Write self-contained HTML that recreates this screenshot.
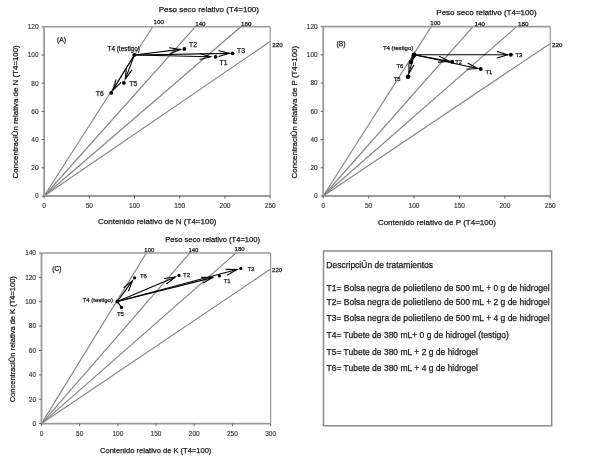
<!DOCTYPE html>
<html><head><meta charset="utf-8"><style>
html,body{margin:0;padding:0;background:#fff;width:589px;height:464px;overflow:hidden}
#w{will-change:transform;width:589px;height:464px}
svg{display:block;font-family:"Liberation Sans",sans-serif}
text{stroke:#1a1a1a;stroke-width:0.25px}
text.tk{stroke:#333;stroke-width:0.15px}
</style></head><body>
<div id="w"><svg width="589" height="464" viewBox="0 0 589 464">
<rect width="589" height="464" fill="#fff"/>
<line x1="44.10" y1="196.00" x2="152.70" y2="26.80" stroke="#858585" stroke-width="1.15"/>
<line x1="44.10" y1="196.00" x2="195.20" y2="26.80" stroke="#858585" stroke-width="1.15"/>
<line x1="44.10" y1="196.00" x2="240.90" y2="26.80" stroke="#858585" stroke-width="1.15"/>
<line x1="44.10" y1="196.00" x2="270.20" y2="41.40" stroke="#858585" stroke-width="1.15"/>
<line x1="44.10" y1="26.80" x2="270.20" y2="26.80" stroke="#9a9a9a" stroke-width="1.6"/>
<line x1="270.20" y1="26.80" x2="270.20" y2="196.00" stroke="#9a9a9a" stroke-width="1.2"/>
<line x1="44.10" y1="26.80" x2="44.10" y2="196.80" stroke="#9a9a9a" stroke-width="1.8"/>
<line x1="44.10" y1="196.00" x2="270.20" y2="196.00" stroke="#9a9a9a" stroke-width="1.8"/>
<line x1="41.60" y1="196.00" x2="44.10" y2="196.00" stroke="#555" stroke-width="0.9"/>
<text x="38.60" y="198.35" font-size="6.5" text-anchor="end" fill="#333" class="tk">0</text>
<line x1="41.60" y1="167.80" x2="44.10" y2="167.80" stroke="#555" stroke-width="0.9"/>
<text x="38.60" y="170.15" font-size="6.5" text-anchor="end" fill="#333" class="tk">20</text>
<line x1="41.60" y1="139.60" x2="44.10" y2="139.60" stroke="#555" stroke-width="0.9"/>
<text x="38.60" y="141.95" font-size="6.5" text-anchor="end" fill="#333" class="tk">40</text>
<line x1="41.60" y1="111.40" x2="44.10" y2="111.40" stroke="#555" stroke-width="0.9"/>
<text x="38.60" y="113.75" font-size="6.5" text-anchor="end" fill="#333" class="tk">60</text>
<line x1="41.60" y1="83.20" x2="44.10" y2="83.20" stroke="#555" stroke-width="0.9"/>
<text x="38.60" y="85.55" font-size="6.5" text-anchor="end" fill="#333" class="tk">80</text>
<line x1="41.60" y1="55.00" x2="44.10" y2="55.00" stroke="#555" stroke-width="0.9"/>
<text x="38.60" y="57.35" font-size="6.5" text-anchor="end" fill="#333" class="tk">100</text>
<line x1="41.60" y1="26.80" x2="44.10" y2="26.80" stroke="#555" stroke-width="0.9"/>
<text x="38.60" y="29.15" font-size="6.5" text-anchor="end" fill="#333" class="tk">120</text>
<line x1="44.10" y1="196.00" x2="44.10" y2="198.50" stroke="#555" stroke-width="0.9"/>
<text x="44.10" y="208.00" font-size="6.5" text-anchor="middle" fill="#333" class="tk">0</text>
<line x1="89.32" y1="196.00" x2="89.32" y2="198.50" stroke="#555" stroke-width="0.9"/>
<text x="89.32" y="208.00" font-size="6.5" text-anchor="middle" fill="#333" class="tk">50</text>
<line x1="134.54" y1="196.00" x2="134.54" y2="198.50" stroke="#555" stroke-width="0.9"/>
<text x="134.54" y="208.00" font-size="6.5" text-anchor="middle" fill="#333" class="tk">100</text>
<line x1="179.76" y1="196.00" x2="179.76" y2="198.50" stroke="#555" stroke-width="0.9"/>
<text x="179.76" y="208.00" font-size="6.5" text-anchor="middle" fill="#333" class="tk">150</text>
<line x1="224.98" y1="196.00" x2="224.98" y2="198.50" stroke="#555" stroke-width="0.9"/>
<text x="224.98" y="208.00" font-size="6.5" text-anchor="middle" fill="#333" class="tk">200</text>
<line x1="270.20" y1="196.00" x2="270.20" y2="198.50" stroke="#555" stroke-width="0.9"/>
<text x="270.20" y="208.00" font-size="6.5" text-anchor="middle" fill="#333" class="tk">250</text>
<text x="158.70" y="12.30" font-size="8" text-anchor="start" fill="#1a1a1a" >Peso seco relativo (T4=100)</text>
<text x="153.50" y="24.30" font-size="6.2" text-anchor="start" fill="#1a1a1a" >100</text>
<text x="195.20" y="26.00" font-size="6.2" text-anchor="start" fill="#1a1a1a" >140</text>
<text x="241.00" y="26.00" font-size="6.2" text-anchor="start" fill="#1a1a1a" >180</text>
<text x="272.30" y="46.80" font-size="6.2" text-anchor="start" fill="#1a1a1a" >220</text>
<text x="98.00" y="224.30" font-size="8" text-anchor="start" fill="#1a1a1a" >Contenido relativo de N (T4=100)</text>
<text transform="translate(17.8,178.4) rotate(-90)" font-size="7.9" fill="#222">Concentraci&#219;n relativa de N (T4=100)</text>
<text x="57.00" y="41.90" font-size="6.8" text-anchor="start" fill="#1a1a1a" >(A)</text>
<line x1="134.30" y1="55.00" x2="210.60" y2="56.69" stroke="#000" stroke-width="1.1"/>
<polyline points="199.54,59.45 210.60,56.69 199.67,53.45" fill="none" stroke="#000" stroke-width="1.1"/>
<line x1="134.30" y1="55.00" x2="180.43" y2="49.38" stroke="#000" stroke-width="1.1"/>
<polyline points="169.87,53.69 180.43,49.38 169.15,47.73" fill="none" stroke="#000" stroke-width="1.1"/>
<line x1="134.30" y1="55.00" x2="229.50" y2="53.35" stroke="#000" stroke-width="1.1"/>
<polyline points="218.55,56.54 229.50,53.35 218.45,50.54" fill="none" stroke="#000" stroke-width="1.1"/>
<line x1="134.30" y1="55.00" x2="125.30" y2="79.15" stroke="#000" stroke-width="1.1"/>
<polyline points="126.33,67.80 125.30,79.15 131.95,69.89" fill="none" stroke="#000" stroke-width="1.1"/>
<line x1="134.30" y1="55.00" x2="112.86" y2="90.24" stroke="#000" stroke-width="1.1"/>
<polyline points="116.01,79.28 112.86,90.24 121.14,82.40" fill="none" stroke="#000" stroke-width="1.1"/>
<circle cx="134.30" cy="55.00" r="1.9" fill="#000"/>
<circle cx="215.60" cy="56.80" r="1.9" fill="#000"/>
<circle cx="184.40" cy="48.90" r="1.9" fill="#000"/>
<circle cx="232.50" cy="53.30" r="1.9" fill="#000"/>
<circle cx="123.90" cy="82.90" r="1.9" fill="#000"/>
<circle cx="111.30" cy="92.80" r="1.9" fill="#000"/>
<text x="107.50" y="51.00" font-size="6.4" text-anchor="start" fill="#1a1a1a" >T4 (testigo)</text>
<text x="189.00" y="47.20" font-size="6.8" text-anchor="start" fill="#1a1a1a" >T2</text>
<text x="237.00" y="53.20" font-size="6.8" text-anchor="start" fill="#1a1a1a" >T3</text>
<text x="219.60" y="64.60" font-size="6.8" text-anchor="start" fill="#1a1a1a" >T1</text>
<text x="129.40" y="86.00" font-size="6.8" text-anchor="start" fill="#1a1a1a" >T5</text>
<text x="95.80" y="96.30" font-size="6.8" text-anchor="start" fill="#1a1a1a" >T6</text>
<line x1="323.20" y1="196.00" x2="431.20" y2="26.60" stroke="#858585" stroke-width="1.15"/>
<line x1="323.20" y1="196.00" x2="473.00" y2="26.60" stroke="#858585" stroke-width="1.15"/>
<line x1="323.20" y1="196.00" x2="516.70" y2="26.60" stroke="#858585" stroke-width="1.15"/>
<line x1="323.20" y1="196.00" x2="550.30" y2="43.50" stroke="#858585" stroke-width="1.15"/>
<line x1="323.20" y1="26.60" x2="550.30" y2="26.60" stroke="#9a9a9a" stroke-width="1.6"/>
<line x1="550.30" y1="26.60" x2="550.30" y2="196.00" stroke="#9a9a9a" stroke-width="1.2"/>
<line x1="323.20" y1="26.60" x2="323.20" y2="196.80" stroke="#9a9a9a" stroke-width="1.8"/>
<line x1="323.20" y1="196.00" x2="550.30" y2="196.00" stroke="#9a9a9a" stroke-width="1.8"/>
<line x1="320.70" y1="196.00" x2="323.20" y2="196.00" stroke="#555" stroke-width="0.9"/>
<text x="317.70" y="198.35" font-size="6.5" text-anchor="end" fill="#333" class="tk">0</text>
<line x1="320.70" y1="167.77" x2="323.20" y2="167.77" stroke="#555" stroke-width="0.9"/>
<text x="317.70" y="170.12" font-size="6.5" text-anchor="end" fill="#333" class="tk">20</text>
<line x1="320.70" y1="139.53" x2="323.20" y2="139.53" stroke="#555" stroke-width="0.9"/>
<text x="317.70" y="141.88" font-size="6.5" text-anchor="end" fill="#333" class="tk">40</text>
<line x1="320.70" y1="111.30" x2="323.20" y2="111.30" stroke="#555" stroke-width="0.9"/>
<text x="317.70" y="113.65" font-size="6.5" text-anchor="end" fill="#333" class="tk">60</text>
<line x1="320.70" y1="83.07" x2="323.20" y2="83.07" stroke="#555" stroke-width="0.9"/>
<text x="317.70" y="85.42" font-size="6.5" text-anchor="end" fill="#333" class="tk">80</text>
<line x1="320.70" y1="54.83" x2="323.20" y2="54.83" stroke="#555" stroke-width="0.9"/>
<text x="317.70" y="57.18" font-size="6.5" text-anchor="end" fill="#333" class="tk">100</text>
<line x1="320.70" y1="26.60" x2="323.20" y2="26.60" stroke="#555" stroke-width="0.9"/>
<text x="317.70" y="28.95" font-size="6.5" text-anchor="end" fill="#333" class="tk">120</text>
<line x1="323.20" y1="196.00" x2="323.20" y2="198.50" stroke="#555" stroke-width="0.9"/>
<text x="323.20" y="208.00" font-size="6.5" text-anchor="middle" fill="#333" class="tk">0</text>
<line x1="368.62" y1="196.00" x2="368.62" y2="198.50" stroke="#555" stroke-width="0.9"/>
<text x="368.62" y="208.00" font-size="6.5" text-anchor="middle" fill="#333" class="tk">50</text>
<line x1="414.04" y1="196.00" x2="414.04" y2="198.50" stroke="#555" stroke-width="0.9"/>
<text x="414.04" y="208.00" font-size="6.5" text-anchor="middle" fill="#333" class="tk">100</text>
<line x1="459.46" y1="196.00" x2="459.46" y2="198.50" stroke="#555" stroke-width="0.9"/>
<text x="459.46" y="208.00" font-size="6.5" text-anchor="middle" fill="#333" class="tk">150</text>
<line x1="504.88" y1="196.00" x2="504.88" y2="198.50" stroke="#555" stroke-width="0.9"/>
<text x="504.88" y="208.00" font-size="6.5" text-anchor="middle" fill="#333" class="tk">200</text>
<line x1="550.30" y1="196.00" x2="550.30" y2="198.50" stroke="#555" stroke-width="0.9"/>
<text x="550.30" y="208.00" font-size="6.5" text-anchor="middle" fill="#333" class="tk">250</text>
<text x="436.30" y="15.40" font-size="8" text-anchor="start" fill="#1a1a1a" >Peso seco relativo (T4=100)</text>
<text x="430.20" y="24.90" font-size="6.2" text-anchor="start" fill="#1a1a1a" >100</text>
<text x="474.50" y="26.00" font-size="6.2" text-anchor="start" fill="#1a1a1a" >140</text>
<text x="518.00" y="26.00" font-size="6.2" text-anchor="start" fill="#1a1a1a" >180</text>
<text x="552.10" y="46.90" font-size="6.2" text-anchor="start" fill="#1a1a1a" >220</text>
<text x="377.90" y="224.90" font-size="8" text-anchor="start" fill="#1a1a1a" >Contenido relativo de P (T4=100)</text>
<text transform="translate(296.6,178.4) rotate(-90)" font-size="7.9" fill="#222">Concentraci&#219;n relativa de P (T4=100)</text>
<text x="336.40" y="45.90" font-size="6.9" text-anchor="start" fill="#1a1a1a" >(B)</text>
<line x1="414.10" y1="54.80" x2="507.90" y2="54.70" stroke="#000" stroke-width="1.1"/>
<polyline points="496.90,57.91 507.90,54.70 496.90,51.51" fill="none" stroke="#000" stroke-width="1.1"/>
<line x1="414.10" y1="54.80" x2="449.25" y2="61.26" stroke="#000" stroke-width="1.1"/>
<polyline points="437.85,62.42 449.25,61.26 439.01,56.12" fill="none" stroke="#000" stroke-width="1.1"/>
<line x1="414.10" y1="54.80" x2="477.77" y2="68.47" stroke="#000" stroke-width="1.1"/>
<polyline points="466.34,69.29 477.77,68.47 467.68,63.03" fill="none" stroke="#000" stroke-width="1.1"/>
<line x1="414.10" y1="54.80" x2="411.72" y2="60.25" stroke="#000" stroke-width="1.1"/>
<polyline points="412.07,54.95 411.72,60.25 415.37,56.39" fill="none" stroke="#000" stroke-width="1.1"/>
<line x1="414.10" y1="54.80" x2="408.86" y2="73.62" stroke="#000" stroke-width="1.1"/>
<polyline points="409.04,63.29 408.86,73.62 414.05,64.68" fill="none" stroke="#000" stroke-width="1.1"/>
<circle cx="414.10" cy="54.80" r="2.4" fill="#000"/>
<circle cx="510.90" cy="54.70" r="2.0" fill="#000"/>
<circle cx="452.20" cy="61.80" r="2.0" fill="#000"/>
<circle cx="480.70" cy="69.10" r="2.0" fill="#000"/>
<circle cx="411.00" cy="61.90" r="2.3" fill="#000"/>
<circle cx="408.00" cy="76.70" r="2.3" fill="#000"/>
<text x="382.90" y="49.90" font-size="6.0" text-anchor="start" fill="#1a1a1a" >T4 (testigo)</text>
<text x="515.50" y="56.50" font-size="5.8" text-anchor="start" fill="#1a1a1a" >T3</text>
<text x="455.20" y="64.00" font-size="5.8" text-anchor="start" fill="#1a1a1a" >T2</text>
<text x="485.40" y="73.70" font-size="5.8" text-anchor="start" fill="#1a1a1a" >T1</text>
<text x="396.50" y="68.30" font-size="5.8" text-anchor="start" fill="#1a1a1a" >T6</text>
<text x="393.80" y="80.50" font-size="5.8" text-anchor="start" fill="#1a1a1a" >T5</text>
<line x1="41.50" y1="423.60" x2="146.30" y2="253.00" stroke="#858585" stroke-width="1.15"/>
<line x1="41.50" y1="423.60" x2="189.80" y2="253.00" stroke="#858585" stroke-width="1.15"/>
<line x1="41.50" y1="423.60" x2="236.00" y2="253.00" stroke="#858585" stroke-width="1.15"/>
<line x1="41.50" y1="423.60" x2="270.60" y2="269.00" stroke="#858585" stroke-width="1.15"/>
<line x1="41.50" y1="253.00" x2="270.60" y2="253.00" stroke="#9a9a9a" stroke-width="1.6"/>
<line x1="270.60" y1="253.00" x2="270.60" y2="423.60" stroke="#9a9a9a" stroke-width="1.2"/>
<line x1="41.50" y1="253.00" x2="41.50" y2="424.40" stroke="#9a9a9a" stroke-width="1.8"/>
<line x1="41.50" y1="423.60" x2="270.60" y2="423.60" stroke="#9a9a9a" stroke-width="1.8"/>
<line x1="39.00" y1="423.60" x2="41.50" y2="423.60" stroke="#555" stroke-width="0.9"/>
<text x="36.00" y="425.95" font-size="6.5" text-anchor="end" fill="#333" class="tk">0</text>
<line x1="39.00" y1="399.23" x2="41.50" y2="399.23" stroke="#555" stroke-width="0.9"/>
<text x="36.00" y="401.58" font-size="6.5" text-anchor="end" fill="#333" class="tk">20</text>
<line x1="39.00" y1="374.86" x2="41.50" y2="374.86" stroke="#555" stroke-width="0.9"/>
<text x="36.00" y="377.21" font-size="6.5" text-anchor="end" fill="#333" class="tk">40</text>
<line x1="39.00" y1="350.49" x2="41.50" y2="350.49" stroke="#555" stroke-width="0.9"/>
<text x="36.00" y="352.84" font-size="6.5" text-anchor="end" fill="#333" class="tk">60</text>
<line x1="39.00" y1="326.11" x2="41.50" y2="326.11" stroke="#555" stroke-width="0.9"/>
<text x="36.00" y="328.46" font-size="6.5" text-anchor="end" fill="#333" class="tk">80</text>
<line x1="39.00" y1="301.74" x2="41.50" y2="301.74" stroke="#555" stroke-width="0.9"/>
<text x="36.00" y="304.09" font-size="6.5" text-anchor="end" fill="#333" class="tk">100</text>
<line x1="39.00" y1="277.37" x2="41.50" y2="277.37" stroke="#555" stroke-width="0.9"/>
<text x="36.00" y="279.72" font-size="6.5" text-anchor="end" fill="#333" class="tk">120</text>
<line x1="39.00" y1="253.00" x2="41.50" y2="253.00" stroke="#555" stroke-width="0.9"/>
<text x="36.00" y="255.35" font-size="6.5" text-anchor="end" fill="#333" class="tk">140</text>
<line x1="41.50" y1="423.60" x2="41.50" y2="426.10" stroke="#555" stroke-width="0.9"/>
<text x="41.50" y="436.00" font-size="6.5" text-anchor="middle" fill="#333" class="tk">0</text>
<line x1="79.68" y1="423.60" x2="79.68" y2="426.10" stroke="#555" stroke-width="0.9"/>
<text x="79.68" y="436.00" font-size="6.5" text-anchor="middle" fill="#333" class="tk">50</text>
<line x1="117.87" y1="423.60" x2="117.87" y2="426.10" stroke="#555" stroke-width="0.9"/>
<text x="117.87" y="436.00" font-size="6.5" text-anchor="middle" fill="#333" class="tk">100</text>
<line x1="156.05" y1="423.60" x2="156.05" y2="426.10" stroke="#555" stroke-width="0.9"/>
<text x="156.05" y="436.00" font-size="6.5" text-anchor="middle" fill="#333" class="tk">150</text>
<line x1="194.23" y1="423.60" x2="194.23" y2="426.10" stroke="#555" stroke-width="0.9"/>
<text x="194.23" y="436.00" font-size="6.5" text-anchor="middle" fill="#333" class="tk">200</text>
<line x1="232.42" y1="423.60" x2="232.42" y2="426.10" stroke="#555" stroke-width="0.9"/>
<text x="232.42" y="436.00" font-size="6.5" text-anchor="middle" fill="#333" class="tk">250</text>
<line x1="270.60" y1="423.60" x2="270.60" y2="426.10" stroke="#555" stroke-width="0.9"/>
<text x="270.60" y="436.00" font-size="6.5" text-anchor="middle" fill="#333" class="tk">300</text>
<text x="165.30" y="241.90" font-size="7.55" text-anchor="start" fill="#1a1a1a" >Peso seco relativo (T4=100)</text>
<text x="144.30" y="251.50" font-size="6.0" text-anchor="start" fill="#1a1a1a" >100</text>
<text x="188.40" y="251.70" font-size="6.0" text-anchor="start" fill="#1a1a1a" >140</text>
<text x="234.60" y="251.10" font-size="6.0" text-anchor="start" fill="#1a1a1a" >180</text>
<text x="272.10" y="272.10" font-size="6.0" text-anchor="start" fill="#1a1a1a" >220</text>
<text x="100.00" y="453.20" font-size="7.55" text-anchor="start" fill="#1a1a1a" >Contenido relativo de K (T4=100)</text>
<text transform="translate(15.3,402.3) rotate(-90)" font-size="7.5" fill="#222">Concentraci&#219;n relativa de K (T4=100)</text>
<text x="52.30" y="271.30" font-size="6.6" text-anchor="start" fill="#1a1a1a" >(C)</text>
<line x1="117.30" y1="301.50" x2="212.61" y2="277.60" stroke="#000" stroke-width="1.1"/>
<polyline points="202.67,283.19 212.61,277.60 201.21,277.37" fill="none" stroke="#000" stroke-width="1.1"/>
<line x1="117.30" y1="301.50" x2="175.32" y2="276.96" stroke="#000" stroke-width="1.1"/>
<polyline points="166.35,284.01 175.32,276.96 164.02,278.48" fill="none" stroke="#000" stroke-width="1.1"/>
<line x1="117.30" y1="301.50" x2="236.94" y2="269.44" stroke="#000" stroke-width="1.1"/>
<polyline points="227.09,275.18 236.94,269.44 225.53,269.39" fill="none" stroke="#000" stroke-width="1.1"/>
<line x1="117.30" y1="301.50" x2="132.54" y2="280.63" stroke="#000" stroke-width="1.1"/>
<polyline points="128.47,291.28 132.54,280.63 123.63,287.74" fill="none" stroke="#000" stroke-width="1.1"/>
<line x1="117.30" y1="301.50" x2="121.50" y2="307.40" stroke="#000" stroke-width="1.2"/>
<circle cx="117.30" cy="301.50" r="1.9" fill="#000"/>
<circle cx="219.40" cy="275.90" r="1.6" fill="#000"/>
<circle cx="179.00" cy="275.40" r="1.6" fill="#000"/>
<circle cx="240.80" cy="268.40" r="1.6" fill="#000"/>
<circle cx="134.60" cy="277.80" r="1.6" fill="#000"/>
<circle cx="121.50" cy="307.40" r="1.6" fill="#000"/>
<text x="82.60" y="301.90" font-size="6.0" text-anchor="start" fill="#1a1a1a" >T4 (testigo)</text>
<text x="183.00" y="276.70" font-size="6.0" text-anchor="start" fill="#1a1a1a" >T2</text>
<text x="247.40" y="271.10" font-size="6.0" text-anchor="start" fill="#1a1a1a" >T3</text>
<text x="223.70" y="282.70" font-size="6.0" text-anchor="start" fill="#1a1a1a" >T1</text>
<text x="139.90" y="277.80" font-size="6.0" text-anchor="start" fill="#1a1a1a" >T6</text>
<text x="116.90" y="315.70" font-size="6.0" text-anchor="start" fill="#1a1a1a" >T5</text>
<rect x="323.5" y="251.0" width="228.2" height="174.8" fill="none" stroke="#8a8a8a" stroke-width="1.5"/>
<text x="326.30" y="268.00" font-size="8.5" text-anchor="start" fill="#1a1a1a" >Descripci&#219;n de tratamientos</text>
<text x="326.50" y="290.80" font-size="8.5" text-anchor="start" fill="#1a1a1a" >T1= Bolsa negra de polietileno de 500 mL + 0 g de hidrogel</text>
<text x="326.50" y="304.90" font-size="8.5" text-anchor="start" fill="#1a1a1a" >T2= Bolsa negra de polietileno de 500 mL + 2 g de hidrogel</text>
<text x="326.50" y="321.00" font-size="8.5" text-anchor="start" fill="#1a1a1a" >T3= Bolsa negra de polietileno de 500 mL + 4 g de hidrogel</text>
<text x="326.50" y="337.90" font-size="8.5" text-anchor="start" fill="#1a1a1a" >T4= Tubete de 380 mL+ 0 g de hidrogel (testigo)</text>
<text x="326.50" y="354.60" font-size="8.5" text-anchor="start" fill="#1a1a1a" >T5= Tubete de 380 mL + 2 g de hidrogel</text>
<text x="326.50" y="370.90" font-size="8.5" text-anchor="start" fill="#1a1a1a" >T6= Tubete de 380 mL + 4 g de hidrogel</text>
</svg></div></body></html>
